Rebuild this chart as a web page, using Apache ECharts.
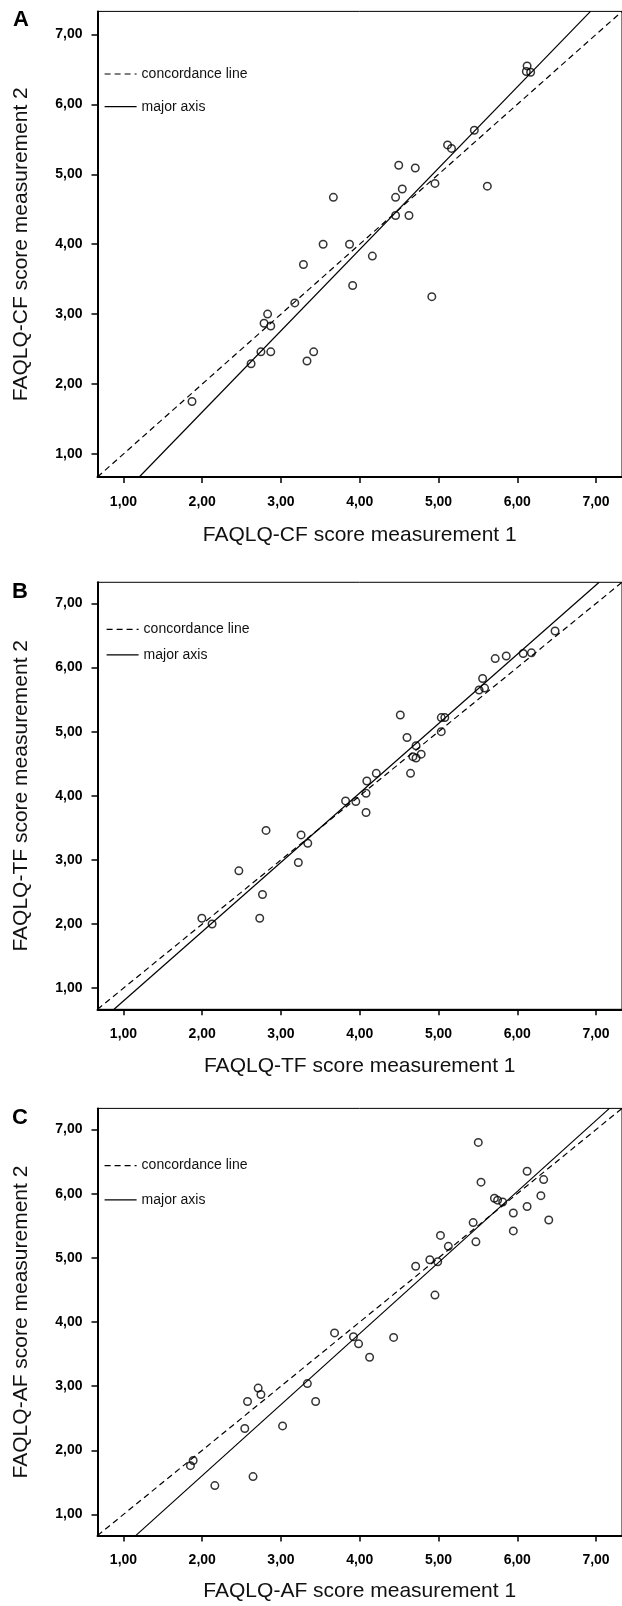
<!DOCTYPE html>
<html>
<head>
<meta charset="utf-8">
<script src="https://cdn.jsdelivr.net/npm/echarts@6/dist/echarts.min.js"></script>
<style>
html,body{margin:0;padding:0;background:#fff;}
#chart{width:622px;height:1606px;}
</style>
</head>
<body>
<div id="chart"></div>
<script>
// ---- data ----
const panelLetters = ['A', 'B', 'C'];
const xTitles = ['FAQLQ-CF score measurement 1', 'FAQLQ-TF score measurement 1', 'FAQLQ-AF score measurement 1'];
const yTitles = ['FAQLQ-CF score measurement 2', 'FAQLQ-TF score measurement 2', 'FAQLQ-AF score measurement 2'];
const tickValues = [1, 2, 3, 4, 5, 6, 7];
const tickLabels = ['1,00', '2,00', '3,00', '4,00', '5,00', '6,00', '7,00'];
const legendNames = ['concordance line', 'major axis'];

const pointsCF = [
  [1.87,1.75],[2.62,2.29],[2.745,2.46],[2.87,2.46],[2.785,2.87],[2.87,2.83],[2.83,3.00],
  [3.175,3.16],[3.285,3.71],[3.33,2.33],[3.415,2.46],[3.535,4.00],[3.665,4.67],[3.87,4.00],
  [3.91,3.41],[4.16,3.83],[4.455,4.67],[4.455,4.41],[4.495,5.13],[4.54,4.79],[4.625,4.41],
  [4.705,5.09],[4.915,3.25],[4.955,4.87],[5.115,5.42],[5.165,5.37],[5.455,5.63],[5.62,4.83],
  [6.125,6.55],[6.115,6.47],[6.17,6.46]
];
const pointsTF = [
  [1.995,2.09],[2.125,2.00],[2.465,2.83],[2.73,2.09],[2.765,2.46],[2.81,3.46],[3.22,2.96],
  [3.255,3.39],[3.34,3.26],[3.82,3.92],[3.95,3.91],[4.08,4.04],[4.09,4.23],[4.08,3.74],
  [4.21,4.35],[4.515,5.26],[4.60,4.91],[4.645,4.35],[4.675,4.61],[4.715,4.78],[4.715,4.59],
  [4.78,4.65],[5.035,5.22],[5.08,5.22],[5.035,5.00],[5.515,5.65],[5.56,5.83],[5.585,5.68],
  [5.72,6.14],[5.86,6.18],[6.075,6.22],[6.18,6.23],[6.48,6.57]
];
const pointsAF = [
  [1.85,1.76],[1.885,1.84],[2.16,1.45],[2.54,2.34],[2.575,2.76],[2.645,1.59],[2.71,2.97],
  [2.745,2.87],[3.02,2.38],[3.335,3.04],[3.44,2.76],[3.68,3.83],[3.92,3.77],[3.985,3.66],
  [4.125,3.45],[4.43,3.76],[4.71,4.87],[4.89,4.97],[4.99,4.94],[4.955,4.42],[5.025,5.35],
  [5.125,5.18],[5.44,5.55],[5.475,5.25],[5.505,6.80],[5.54,6.18],[5.71,5.93],[5.75,5.90],
  [5.815,5.87],[5.95,5.70],[5.95,5.42],[6.125,6.35],[6.125,5.80],[6.30,5.97],[6.335,6.22],
  [6.40,5.59]
];
const concordanceLine = [[0.67,0.67],[7.33,7.33]];
const majorAxisCF = [[1.20,0.67],[6.93,7.33]];
const majorAxisTF = [[0.88,0.67],[7.04,7.33]];
const majorAxisAF = [[1.155,0.67],[7.17,7.33]];

const panelPoints = [pointsCF, pointsTF, pointsAF];
const panelMajor = [majorAxisCF, majorAxisTF, majorAxisAF];

// ---- layout ----
const axisMin = 0.67, axisMax = 7.33;
const grids = [
  {left: 97.5, width: 527.5, top: 11.4, height: 465.6},
  {left: 97.5, width: 527.5, top: 582.3, height: 427},
  {left: 97.5, width: 527.5, top: 1108.4, height: 427.2}
];
const xNameGaps = [48, 46, 45];
const legendTops = [62, 617.4, 1153.6];
const legendGaps = [18.7, 11.4, 20.2];
const legendLefts = [99, 101, 99];
const letterPos = [[21, 20], [20, 592], [20, 1118]];

const FONT = "'Liberation Sans', Arial, sans-serif";
const fmt = v => {
  const i = tickValues.indexOf(Math.round(v * 100) / 100);
  return i >= 0 ? tickLabels[i] : '';
};

const xAxes = [], yAxes = [], series = [], legends = [], graphics = [];
grids.forEach((g, i) => {
  g.show = true; g.borderColor = '#000'; g.borderWidth = 1; g.containLabel = false;
  const common = {
    gridIndex: i, type: 'value', min: axisMin, max: axisMax,
    axisLine: {show: true, onZero: false, lineStyle: {color: '#000', width: 2}},
    axisTick: {show: true, customValues: tickValues, length: 6, lineStyle: {color: '#000', width: 1.5}},
    splitLine: {show: false},
    nameTextStyle: {fontFamily: FONT, fontSize: 21, color: '#111'},
    nameLocation: 'middle'
  };
  xAxes.push(Object.assign({}, common, {
    name: xTitles[i], nameGap: xNameGaps[i],
    axisLabel: {customValues: tickValues, formatter: fmt, margin: 18, fontFamily: FONT, fontSize: 14, fontWeight: 'bold', color: '#000'}
  }));
  yAxes.push(Object.assign({}, common, {
    name: yTitles[i], nameGap: 66, nameRotate: 90,
    axisLabel: {customValues: tickValues, formatter: fmt, margin: 15, fontFamily: FONT, fontSize: 14, fontWeight: 'bold', color: '#000'}
  }));
  series.push({
    type: 'scatter', xAxisIndex: i, yAxisIndex: i, data: panelPoints[i],
    symbol: 'circle', symbolSize: 7.5,
    itemStyle: {color: 'rgba(0,0,0,0)', borderColor: '#000', borderWidth: 1.5},
    silent: true, z: 3
  });
  series.push({
    type: 'line', name: legendNames[0], xAxisIndex: i, yAxisIndex: i, data: concordanceLine,
    symbol: 'none', itemStyle: {color: '#000'},
    lineStyle: {color: '#000', width: 1.2, type: [6, 4]}, silent: true, z: 2
  });
  series.push({
    type: 'line', name: legendNames[1], xAxisIndex: i, yAxisIndex: i, data: panelMajor[i],
    symbol: 'none', itemStyle: {color: '#000'},
    lineStyle: {color: '#000', width: 1.2, type: 'solid'}, silent: true, z: 2
  });
  legends.push({
    data: legendNames, orient: 'vertical', left: legendLefts[i], top: legendTops[i],
    itemWidth: 32, itemHeight: 14, itemGap: legendGaps[i], selectedMode: false,
    itemStyle: {color: 'rgba(0,0,0,0)', borderWidth: 0, opacity: 0},
    lineStyle: {color: '#000', width: 1.2},
    textStyle: {fontFamily: FONT, fontSize: 14, color: '#111'}
  });
  graphics.push({
    type: 'text', left: letterPos[i][0] - 8, top: letterPos[i][1] - 11,
    style: {text: panelLetters[i], font: "bold 22px " + FONT, fill: '#000'}
  });
});

const chart = echarts.init(document.getElementById('chart'), null, {renderer: 'canvas'});
chart.setOption({
  animation: false,
  backgroundColor: '#fff',
  grid: grids,
  xAxis: xAxes,
  yAxis: yAxes,
  legend: legends,
  series: series,
  graphic: graphics
});
</script>
</body>
</html>
